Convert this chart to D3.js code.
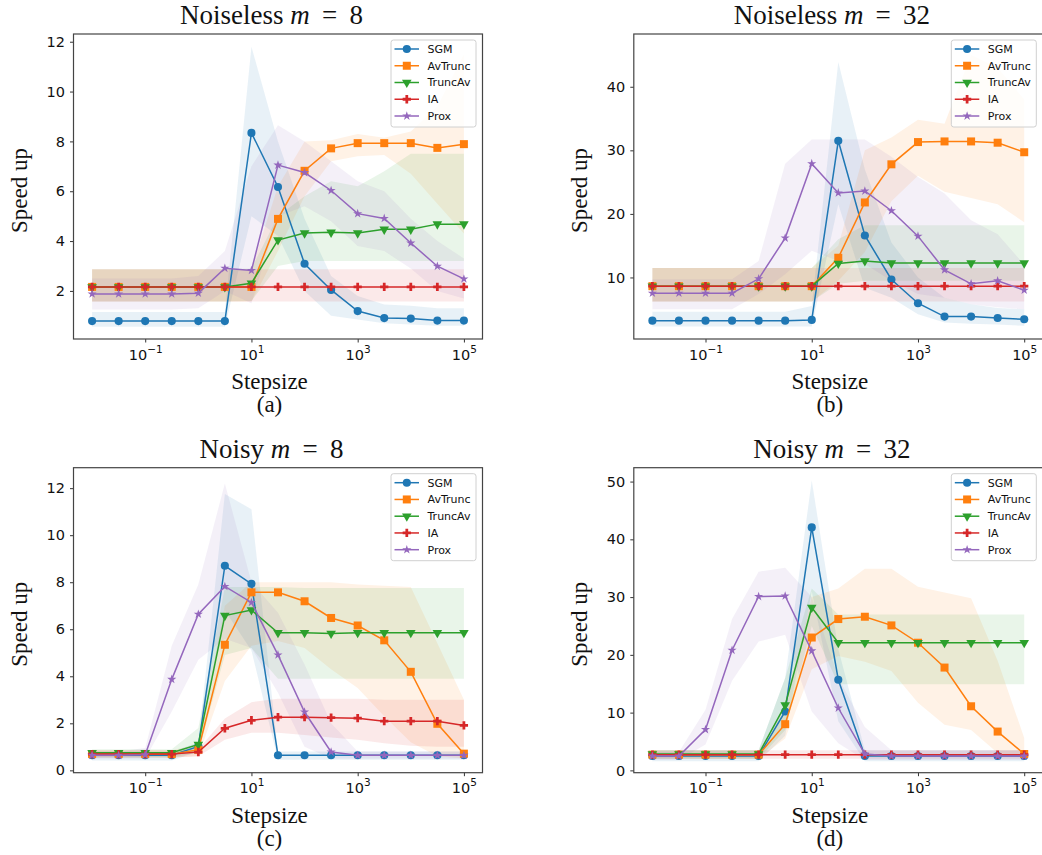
<!DOCTYPE html>
<html>
<head>
<meta charset="utf-8">
<script src="https://cdn.jsdelivr.net/npm/d3@7"></script>
<style>
  body { margin: 0; background: #fff; }
  svg { display: block; }
</style>
</head>
<body>
<svg id="chart" width="1042" height="855"></svg>
<script>
// stepsizes (x), one point per half decade
const stepsizes = [0.01, 0.0316, 0.1, 0.316, 1, 3.16, 10, 31.6, 100, 316, 1000, 3162, 10000, 31623, 100000];
const seriesNames = ["SGM", "AvTrunc", "TruncAv", "IA", "Prox"];
const xTickValues = [0.1, 10, 1000, 100000];
const xTickExps = ["\u22121", "1", "3", "5"];

// (a) Noiseless m = 8
const a_SGM      = [0.79, 0.79, 0.79, 0.79, 0.79, 0.79, 8.34, 6.17, 3.09, 2.04, 1.19, 0.91, 0.89, 0.81, 0.81];
const a_SGM_lo   = [0.56, 0.56, 0.56, 0.56, 0.56, 0.56, 5.0, 4.2, 2.0, 1.0, 0.85, 0.7, 0.65, 0.6, 0.6];
const a_SGM_hi   = [1.15, 1.15, 1.15, 1.15, 1.15, 1.15, 11.8, 8.0, 4.9, 2.6, 1.8, 1.45, 1.4, 1.3, 1.3];
const a_AvTrunc    = [2.16, 2.16, 2.16, 2.16, 2.16, 2.16, 2.16, 4.89, 6.82, 7.72, 7.93, 7.93, 7.93, 7.74, 7.89];
const a_AvTrunc_lo = [1.57, 1.57, 1.57, 1.57, 1.57, 1.57, 1.57, 3.6, 5.8, 7.2, 7.4, 7.45, 6.7, 5.5, 4.3];
const a_AvTrunc_hi = [2.87, 2.87, 2.87, 2.87, 2.87, 2.87, 2.87, 6.2, 8.0, 8.05, 8.3, 8.15, 8.4, 9.4, 11.5];
const a_TruncAv    = [2.16, 2.16, 2.16, 2.16, 2.16, 2.16, 2.31, 4.04, 4.32, 4.35, 4.32, 4.47, 4.47, 4.68, 4.68];
const a_TruncAv_lo = [1.57, 1.57, 1.57, 1.57, 1.57, 1.57, 1.6, 3.0, 3.2, 3.2, 3.2, 3.2, 3.2, 3.2, 3.2];
const a_TruncAv_hi = [2.87, 2.87, 2.87, 2.87, 2.87, 2.87, 2.9, 5.0, 5.8, 6.4, 6.2, 6.8, 7.5, 7.5, 7.5];
const a_IA    = [2.16, 2.16, 2.16, 2.16, 2.16, 2.16, 2.16, 2.16, 2.16, 2.16, 2.16, 2.16, 2.16, 2.16, 2.16];
const a_IA_lo = [1.57, 1.57, 1.57, 1.57, 1.57, 1.57, 1.57, 1.57, 1.57, 1.57, 1.57, 1.57, 1.57, 1.57, 1.57];
const a_IA_hi = [2.87, 2.87, 2.87, 2.87, 2.87, 2.87, 2.87, 2.87, 2.87, 2.87, 2.87, 2.87, 2.87, 2.87, 2.87];
const a_Prox    = [1.88, 1.88, 1.88, 1.88, 1.91, 2.91, 2.82, 7.05, 6.75, 6.03, 5.10, 4.91, 3.92, 2.99, 2.48];
const a_Prox_lo = [1.25, 1.25, 1.25, 1.25, 1.3, 2.0, 1.5, 5.0, 5.4, 4.8, 3.8, 3.6, 2.9, 2.0, 1.7];
const a_Prox_hi = [2.5, 2.5, 2.5, 2.5, 2.6, 3.6, 7.0, 8.65, 8.0, 7.2, 6.4, 6.0, 4.9, 4.0, 3.3];

// (b) Noiseless m = 32
const b_SGM      = [3.21, 3.21, 3.21, 3.21, 3.21, 3.21, 3.32, 31.5, 16.6, 9.68, 5.95, 3.84, 3.84, 3.63, 3.42];
const b_SGM_lo   = [2.3, 2.3, 2.3, 2.3, 2.3, 2.3, 2.3, 21.5, 8.4, 6.8, 4.2, 2.9, 2.7, 2.6, 2.4];
const b_SGM_hi   = [4.6, 4.6, 4.6, 4.6, 4.6, 4.6, 5.5, 43.9, 27, 15.5, 10, 6.8, 5.8, 5.2, 5.0];
const b_AvTrunc    = [8.63, 8.63, 8.63, 8.63, 8.63, 8.63, 8.63, 13.1, 21.8, 27.8, 31.3, 31.4, 31.4, 31.2, 29.7];
const b_AvTrunc_lo = [6.2, 6.2, 6.2, 6.2, 6.2, 6.2, 6.2, 9.5, 14, 22, 26, 23.5, 22.5, 21.5, 18.7];
const b_AvTrunc_hi = [11.5, 11.5, 11.5, 11.5, 11.5, 11.5, 11.5, 15, 30, 32, 34.8, 34.2, 45, 43, 38];
const b_TruncAv    = [8.63, 8.63, 8.63, 8.63, 8.63, 8.63, 8.63, 12.2, 12.6, 12.26, 12.26, 12.26, 12.26, 12.26, 12.26];
const b_TruncAv_lo = [6.2, 6.2, 6.2, 6.2, 6.2, 6.2, 6.2, 9, 9.5, 9.5, 9.5, 9.5, 9.5, 9.5, 9.5];
const b_TruncAv_hi = [11.5, 11.5, 11.5, 11.5, 11.5, 11.5, 11.5, 16, 18.2, 18.2, 18.2, 18.2, 18.2, 18.2, 18.2];
const b_IA    = [8.63, 8.63, 8.63, 8.63, 8.63, 8.63, 8.63, 8.63, 8.63, 8.63, 8.63, 8.63, 8.63, 8.63, 8.63];
const b_IA_lo = [6.2, 6.2, 6.2, 6.2, 6.2, 6.2, 6.2, 6.2, 6.2, 6.2, 6.2, 6.2, 6.2, 6.2, 6.2];
const b_IA_hi = [11.5, 11.5, 11.5, 11.5, 11.5, 11.5, 11.5, 11.5, 11.5, 11.5, 11.5, 11.5, 11.5, 11.5, 11.5];
const b_Prox    = [7.53, 7.53, 7.53, 7.53, 9.79, 16.2, 27.9, 23.3, 23.6, 20.5, 16.5, 11.2, 9.0, 9.47, 8.0];
const b_Prox_lo = [5.0, 5.0, 5.0, 5.0, 7.4, 10.5, 14.2, 12.6, 12.1, 9.5, 7.4, 6.8, 5.8, 5.3, 5.0];
const b_Prox_hi = [9.7, 9.7, 9.7, 9.7, 12.6, 27.9, 31.7, 31.7, 31.7, 29, 25.8, 23.2, 19, 16.8, 12];

// (c) Noisy m = 8
const c_SGM      = [0.64, 0.64, 0.64, 0.64, 1.02, 8.7, 7.93, 0.64, 0.64, 0.64, 0.64, 0.64, 0.64, 0.64, 0.64];
const c_SGM_lo   = [0.42, 0.42, 0.42, 0.42, 0.8, 6.8, 5.1, 0.45, 0.45, 0.45, 0.45, 0.45, 0.45, 0.45, 0.45];
const c_SGM_hi   = [0.78, 0.78, 0.78, 0.78, 1.2, 11.75, 11.1, 0.8, 0.8, 0.8, 0.8, 0.8, 0.8, 0.8, 0.8];
const c_AvTrunc    = [0.69, 0.69, 0.69, 0.69, 0.875, 5.34, 7.57, 7.57, 7.19, 6.48, 6.16, 5.53, 4.19, 1.98, 0.71];
const c_AvTrunc_lo = [0.55, 0.55, 0.55, 0.55, 0.6, 3.8, 5.3, 5.5, 5.2, 4.3, 3.5, 2.3, 1.2, 0.6, 0.5];
const c_AvTrunc_hi = [0.85, 0.85, 0.85, 0.85, 1.1, 7.0, 8.0, 8.0, 8.0, 8.0, 7.9, 7.85, 7.8, 5.4, 3.0];
const c_TruncAv    = [0.75, 0.75, 0.75, 0.75, 1.10, 6.58, 6.82, 5.85, 5.85, 5.82, 5.85, 5.85, 5.85, 5.85, 5.85];
const c_TruncAv_lo = [0.55, 0.55, 0.55, 0.55, 0.75, 4.9, 5.2, 3.9, 3.9, 3.9, 3.9, 3.9, 3.9, 3.9, 3.9];
const c_TruncAv_hi = [0.9, 0.9, 0.9, 0.9, 1.8, 7.8, 7.8, 7.8, 7.75, 7.75, 7.75, 7.75, 7.75, 7.75, 7.75];
const c_IA    = [0.69, 0.69, 0.69, 0.69, 0.78, 1.79, 2.13, 2.26, 2.26, 2.24, 2.22, 2.09, 2.09, 2.09, 1.91];
const c_IA_lo = [0.55, 0.55, 0.55, 0.55, 0.6, 1.3, 1.6, 1.6, 1.5, 1.4, 1.3, 1.15, 1.05, 1.0, 1.0];
const c_IA_hi = [0.85, 0.85, 0.85, 0.85, 0.9, 2.2, 2.9, 3.05, 3.05, 3.05, 3.05, 3.0, 3.0, 3.0, 3.0];
const c_Prox    = [0.64, 0.64, 0.66, 3.87, 6.64, 7.82, 7.14, 4.91, 2.48, 0.78, 0.64, 0.64, 0.64, 0.64, 0.64];
const c_Prox_lo = [0.5, 0.5, 0.5, 2.5, 4.7, 5.6, 5.2, 3.3, 1.0, 0.5, 0.5, 0.5, 0.5, 0.5, 0.5];
const c_Prox_hi = [0.8, 0.8, 0.95, 5.3, 7.9, 12.2, 8.0, 6.7, 4.5, 2.0, 0.8, 0.8, 0.8, 0.8, 0.8];

// (d) Noisy m = 32
const d_SGM      = [2.49, 2.49, 2.49, 2.49, 2.49, 10.2, 42.06, 15.7, 2.49, 2.49, 2.49, 2.49, 2.49, 2.49, 2.49];
const d_SGM_lo   = [1.6, 1.6, 1.6, 1.6, 1.6, 6, 31, 8.5, 1.6, 1.6, 1.6, 1.6, 1.6, 1.6, 1.6];
const d_SGM_hi   = [3.5, 3.5, 3.5, 3.5, 3.5, 16, 50.2, 21, 3.5, 3.5, 3.5, 3.5, 3.5, 3.5, 3.5];
const d_AvTrunc    = [2.72, 2.72, 2.72, 2.72, 2.72, 8.0, 23.0, 26.2, 26.6, 25.1, 22.1, 17.8, 11.1, 6.72, 2.84];
const d_AvTrunc_lo = [2.0, 2.0, 2.0, 2.0, 2.0, 5.5, 17.5, 19.8, 18.8, 17.2, 11.7, 7.9, 7.0, 3.0, 2.2];
const d_AvTrunc_hi = [3.5, 3.5, 3.5, 3.5, 3.5, 10.5, 30, 31.5, 34.9, 34.9, 31.8, 30.8, 29.8, 19, 5.6];
const d_TruncAv    = [2.84, 2.84, 2.84, 2.84, 2.84, 11.3, 28.2, 22.1, 22.1, 22.1, 22.1, 22.1, 22.1, 22.1, 22.1];
const d_TruncAv_lo = [2.0, 2.0, 2.0, 2.0, 2.0, 7, 25, 14.9, 14.9, 14.9, 14.9, 14.9, 14.9, 14.9, 14.9];
const d_TruncAv_hi = [3.5, 3.5, 3.5, 3.5, 3.5, 16, 31.5, 27, 27, 27, 27, 27, 27, 27, 27];
const d_IA    = [2.72, 2.72, 2.72, 2.72, 2.72, 2.72, 2.72, 2.72, 2.72, 2.72, 2.72, 2.72, 2.72, 2.72, 2.72];
const d_IA_lo = [2.0, 2.0, 2.0, 2.0, 2.0, 2.0, 2.0, 2.0, 2.0, 2.0, 2.0, 2.0, 2.0, 2.0, 2.0];
const d_IA_hi = [3.5, 3.5, 3.5, 3.5, 3.5, 3.5, 3.5, 3.5, 3.5, 3.5, 3.5, 3.5, 3.5, 3.5, 3.5];
const d_Prox    = [2.49, 2.49, 7.07, 20.8, 30.1, 30.2, 20.7, 10.8, 2.84, 2.49, 2.49, 2.49, 2.49, 2.49, 2.49];
const d_Prox_lo = [1.8, 1.8, 4.5, 15.5, 22.3, 23.5, 10.2, 4.7, 1.8, 1.8, 1.8, 1.8, 1.8, 1.8, 1.8];
const d_Prox_hi = [3.2, 3.2, 10.5, 26.2, 34.4, 35.1, 30, 16, 7.5, 3.5, 3.5, 3.5, 3.5, 3.5, 3.5];

// colours and markers per series (matplotlib tab10)
const colors = ["#1f77b4", "#ff7f0e", "#2ca02c", "#d62728", "#9467bd"];
const markers = [
  { type: d3.symbolCircle, size: 52, rot: 0 },
  { type: d3.symbolSquare, size: 64, rot: 0 },
  { type: d3.symbolTriangle, size: 40, rot: 180 },
  { type: d3.symbolCross, size: 38, rot: 0 },
  { type: d3.symbolStar, size: 26, rot: 0 }
];

const panels = [
  { left: 73.5, top: 34, title: "Noiseless ", m: "8", label: "(a)", yDomain: [0.07, 12.31], yTicks: [2, 4, 6, 8, 10, 12],
    series: [[a_SGM, a_SGM_lo, a_SGM_hi], [a_AvTrunc, a_AvTrunc_lo, a_AvTrunc_hi], [a_TruncAv, a_TruncAv_lo, a_TruncAv_hi], [a_IA, a_IA_lo, a_IA_hi], [a_Prox, a_Prox_lo, a_Prox_hi]] },
  { left: 633.8, top: 34, title: "Noiseless ", m: "32", label: "(b)", yDomain: [0.32, 48.3], yTicks: [10, 20, 30, 40],
    series: [[b_SGM, b_SGM_lo, b_SGM_hi], [b_AvTrunc, b_AvTrunc_lo, b_AvTrunc_hi], [b_TruncAv, b_TruncAv_lo, b_TruncAv_hi], [b_IA, b_IA_lo, b_IA_hi], [b_Prox, b_Prox_lo, b_Prox_hi]] },
  { left: 73.5, top: 467.7, title: "Noisy ", m: "8", label: "(c)", yDomain: [-0.1, 12.87], yTicks: [0, 2, 4, 6, 8, 10, 12],
    series: [[c_SGM, c_SGM_lo, c_SGM_hi], [c_AvTrunc, c_AvTrunc_lo, c_AvTrunc_hi], [c_TruncAv, c_TruncAv_lo, c_TruncAv_hi], [c_IA, c_IA_lo, c_IA_hi], [c_Prox, c_Prox_lo, c_Prox_hi]] },
  { left: 633.8, top: 467.7, title: "Noisy ", m: "32", label: "(d)", yDomain: [-0.4, 52.4], yTicks: [0, 10, 20, 30, 40, 50],
    series: [[d_SGM, d_SGM_lo, d_SGM_hi], [d_AvTrunc, d_AvTrunc_lo, d_AvTrunc_hi], [d_TruncAv, d_TruncAv_lo, d_TruncAv_hi], [d_IA, d_IA_lo, d_IA_hi], [d_Prox, d_Prox_lo, d_Prox_hi]] }
];

const plotW = 409;
const plotH = 305;
const tickFont = "'DejaVu Sans', sans-serif";
const serif = "'Liberation Serif', 'Times New Roman', serif";

const svg = d3.select("#chart");

panels.forEach(p => {
  const g = svg.append("g").attr("transform", `translate(${p.left},${p.top})`);

  const x = d3.scaleLog().domain([Math.pow(10, -2.35), Math.pow(10, 5.35)]).range([0, plotW]);
  const y = d3.scaleLinear().domain(p.yDomain).range([plotH, 0]);

  // bands first (under the lines)
  p.series.forEach((s, k) => {
    const rows = stepsizes.map((v, i) => ({ x: v, lo: s[1][i], hi: s[2][i] }));
    g.append("path")
      .datum(rows)
      .attr("fill", colors[k])
      .attr("fill-opacity", 0.1)
      .attr("d", d3.area().x(d => x(d.x)).y0(d => y(d.lo)).y1(d => y(d.hi)));
  });

  // lines with markers
  p.series.forEach((s, k) => {
    const rows = stepsizes.map((v, i) => ({ x: v, y: s[0][i] }));
    g.append("path")
      .datum(rows)
      .attr("fill", "none")
      .attr("stroke", colors[k])
      .attr("stroke-width", 1.5)
      .attr("d", d3.line().x(d => x(d.x)).y(d => y(d.y)));
    const sym = d3.symbol().type(markers[k].type).size(markers[k].size);
    g.selectAll(null)
      .data(rows)
      .enter().append("path")
      .attr("d", sym)
      .attr("fill", colors[k])
      .attr("transform", d => `translate(${x(d.x)},${y(d.y)}) rotate(${markers[k].rot})`);
  });

  // axes
  const xAxis = g.append("g")
    .attr("transform", `translate(0,${plotH})`)
    .call(d3.axisBottom(x).tickValues(xTickValues).tickSize(3.5).tickPadding(7).tickFormat(() => ""));
  xAxis.select(".domain").remove();
  xAxis.selectAll(".tick line").attr("stroke", "#333");
  xAxis.selectAll(".tick text")
    .attr("font-family", tickFont)
    .attr("font-size", 14.5)
    .attr("fill", "#111")
    .each(function (d, i) {
      const t = d3.select(this);
      t.text("10");
      t.append("tspan").attr("dy", -7).attr("font-size", 10.5).text(xTickExps[i]);
    });

  const yAxis = g.append("g")
    .call(d3.axisLeft(y).tickValues(p.yTicks).tickSize(3.5).tickPadding(5));
  yAxis.select(".domain").remove();
  yAxis.selectAll(".tick line").attr("stroke", "#333");
  yAxis.selectAll(".tick text")
    .attr("font-family", tickFont)
    .attr("font-size", 14.5)
    .attr("fill", "#111");

  // frame
  g.append("rect")
    .attr("width", plotW)
    .attr("height", plotH)
    .attr("fill", "none")
    .attr("stroke", "#444")
    .attr("stroke-width", 1.2);

  // title
  const title = g.append("text")
    .attr("x", 198)
    .attr("y", -10)
    .attr("text-anchor", "middle")
    .attr("font-family", serif)
    .attr("font-size", 27)
    .attr("fill", "#111");
  title.append("tspan").text(p.title);
  title.append("tspan").attr("font-style", "italic").text("m");
  title.append("tspan").text("\u2009 = \u2009" + p.m);

  // x label and panel letter
  g.append("text")
    .attr("x", 196)
    .attr("y", plotH + 50)
    .attr("text-anchor", "middle")
    .attr("font-family", serif)
    .attr("font-size", 23)
    .attr("fill", "#111")
    .text("Stepsize");
  g.append("text")
    .attr("x", 196)
    .attr("y", plotH + 73)
    .attr("text-anchor", "middle")
    .attr("font-family", serif)
    .attr("font-size", 23)
    .attr("fill", "#111")
    .text(p.label);

  // y label
  g.append("text")
    .attr("transform", `translate(${-55},${plotH / 2 + 4}) rotate(-90)`)
    .attr("text-anchor", "middle")
    .attr("dy", "0.35em")
    .attr("font-family", serif)
    .attr("font-size", 23)
    .attr("fill", "#111")
    .text("Speed up");

  // legend
  const lg = g.append("g").attr("transform", `translate(${plotW - 6.5 - 85},6)`);
  lg.append("rect")
    .attr("width", 85)
    .attr("height", 87)
    .attr("rx", 2.5)
    .attr("fill", "#fff")
    .attr("fill-opacity", 0.8)
    .attr("stroke", "#d0d0d0")
    .attr("stroke-width", 1);
  seriesNames.forEach((name, k) => {
    const yy = 9 + k * 16.75;
    lg.append("line")
      .attr("x1", 3.5).attr("x2", 28)
      .attr("y1", yy).attr("y2", yy)
      .attr("stroke", colors[k])
      .attr("stroke-width", 1.5);
    lg.append("path")
      .attr("d", d3.symbol().type(markers[k].type).size(markers[k].size))
      .attr("fill", colors[k])
      .attr("transform", `translate(15.8,${yy}) rotate(${markers[k].rot})`);
    lg.append("text")
      .attr("x", 36.5)
      .attr("y", yy)
      .attr("dy", "0.36em")
      .attr("font-family", tickFont)
      .attr("font-size", 11)
      .attr("fill", "#111")
      .text(name);
  });
});
</script>
</body>
</html>
